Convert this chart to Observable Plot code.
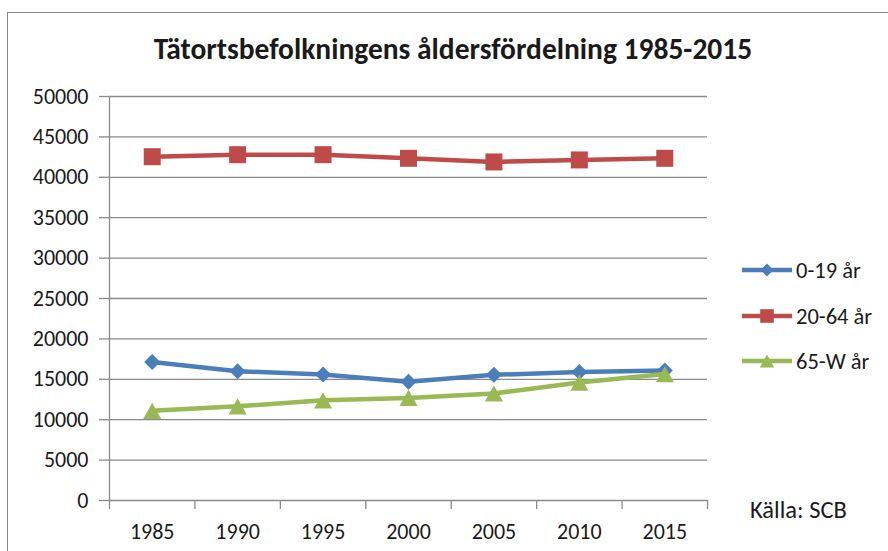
<!DOCTYPE html>
<html>
<head>
<meta charset="utf-8">
<script src="https://cdn.jsdelivr.net/npm/d3@7"></script>
<script src="https://cdn.jsdelivr.net/npm/@observablehq/plot@0.6"></script>
<style>
  html, body { margin: 0; padding: 0; background: #fff; }
  #wrap { position: relative; width: 888px; height: 551px; overflow: hidden; font-family: Carlito, Calibri, Lato, sans-serif; color: #1a1a1a; }
  #frame { position: absolute; left: 7px; top: 12px; width: 920px; height: 620px; border: 1px solid #8a8a8a; box-sizing: border-box; }
  #chart, #overlay { position: absolute; left: 0; top: 0; }
</style>
</head>
<body>
<div id="wrap">
  <div id="frame"></div>
  <div id="chart"></div>
  <svg id="overlay" width="888" height="551"></svg>
</div>
<script>
const titleText = "Tätortsbefolkningens åldersfördelning 1985-2015";
const sourceText = "Källa: SCB";
const years = [1985, 1990, 1995, 2000, 2005, 2010, 2015];
const seriesNames = ["0-19 år", "20-64 år", "65-W år"];
const age0_19 = [17150, 16000, 15600, 14700, 15550, 15900, 16100];
const age20_64 = [42550, 42800, 42800, 42350, 41900, 42150, 42350];
const age65_w = [11100, 11650, 12400, 12700, 13250, 14600, 15650];
const yTicks = [0, 5000, 10000, 15000, 20000, 25000, 30000, 35000, 40000, 45000, 50000];
const colors = ["#4a7ebb", "#be4b48", "#98b954"];

const seriesValues = [age0_19, age20_64, age65_w];
const data = seriesNames.flatMap((s, i) => years.map((y, j) => ({series: s, year: y, value: seriesValues[i][j]})));

// custom Excel-like marker symbols (size = PI * r^2)
const diamond = { draw(ctx, size) { const r = Math.sqrt(size / Math.PI); ctx.moveTo(0, -r); ctx.lineTo(r, 0); ctx.lineTo(0, r); ctx.lineTo(-r, 0); ctx.closePath(); } };
const square = { draw(ctx, size) { const r = Math.sqrt(size / Math.PI); ctx.rect(-r, -r, 2 * r, 2 * r); } };
const triangle = { draw(ctx, size) { const r = Math.sqrt(size / Math.PI); const h = r * 0.9; ctx.moveTo(0, -h); ctx.lineTo(r, h); ctx.lineTo(-r, h); ctx.closePath(); } };
const symbols = [diamond, square, triangle];
const radii = [8, 8.5, 9];

const step = 5;
const xDomain = [years[0] - step / 2, years[years.length - 1] + step / 2];
const boundaries = d3.range(xDomain[0], xDomain[1] + 0.001, step);
const gridColor = "#8a8a8a";

const marks = [
  Plot.ruleY(yTicks.slice(1), {stroke: gridColor, strokeWidth: 1.3}),
  Plot.axisY({ticks: yTicks, tickSize: 10, tickPadding: 11, tickFormat: d => String(d), stroke: gridColor, strokeWidth: 1.3, color: "#1a1a1a", label: null}),
  Plot.ruleX([xDomain[0]], {stroke: gridColor, strokeWidth: 1.3}),
  Plot.ruleY([0], {stroke: gridColor, strokeWidth: 1.3}),
  Plot.axisX({ticks: boundaries, tickSize: 9, tickFormat: () => "", stroke: gridColor, strokeWidth: 1.3, label: null}),
  Plot.axisX({ticks: years, tickSize: 0, tickPadding: 23, tickFormat: d => String(d), color: "#1a1a1a", label: null})
];
seriesNames.forEach((s, i) => {
  const d = data.filter(r => r.series === s);
  marks.push(Plot.line(d, {x: "year", y: "value", stroke: colors[i], strokeWidth: 4.5}));
  marks.push(Plot.dot(d, {x: "year", y: "value", symbol: () => symbols[i], r: radii[i], fill: colors[i], stroke: "none"}));
});

const plot = Plot.plot({
  width: 888, height: 551,
  marginLeft: 109, marginRight: 181, marginTop: 96, marginBottom: 51,
  x: {domain: xDomain, axis: null},
  y: {domain: [0, 50000], axis: null},
  symbol: {type: "identity"},
  style: {fontFamily: "Carlito, Calibri, Lato, sans-serif", fontSize: "22px", background: "transparent", overflow: "visible"},
  marks
});
document.getElementById("chart").appendChild(plot);

const ov = d3.select("#overlay").style("font-family", "Carlito, Calibri, Lato, sans-serif").attr("fill", "#1a1a1a");
ov.append("text").attr("x", 453).attr("y", 59).attr("text-anchor", "middle").attr("font-weight", "bold").attr("font-size", 29.5).text(titleText);
ov.append("text").attr("x", 750).attr("y", 518).attr("font-size", 24.5).text(sourceText);

const legendY = [270, 316, 361];
seriesNames.forEach((s, i) => {
  const g = ov.append("g").attr("transform", `translate(742,${legendY[i]})`);
  g.append("line").attr("x1", 0).attr("x2", 50).attr("y1", 0).attr("y2", 0).attr("stroke", colors[i]).attr("stroke-width", 4.5);
  const p = d3.path();
  symbols[i].draw(p, Math.PI * (radii[i] * 0.8) ** 2);
  g.append("path").attr("d", p.toString()).attr("transform", "translate(25,0)").attr("fill", colors[i]);
  g.append("text").attr("x", 54).attr("y", 0).attr("dy", "0.35em").attr("font-size", 22.5).text(s);
});
</script>
</body>
</html>
